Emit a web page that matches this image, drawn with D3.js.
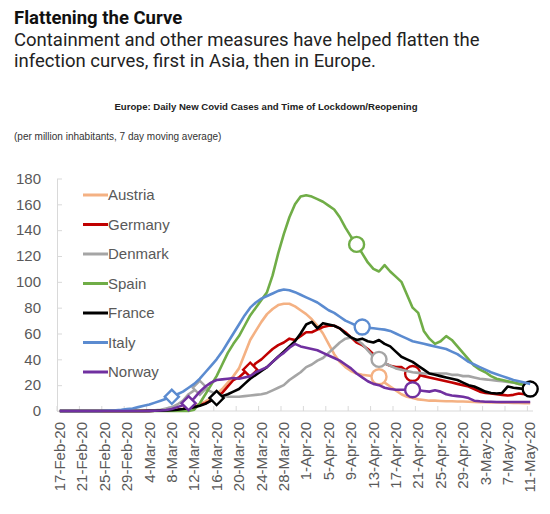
<!DOCTYPE html>
<html lang="en">
<head>
<meta charset="UTF-8">
<title>Flattening the Curve</title>
<script src="https://cdn.jsdelivr.net/npm/d3@7"></script>
<style>
  body { margin: 0; background: #fff; }
  text { font-family: 'Liberation Sans', Arial, sans-serif; }
</style>
</head>
<body>
<svg></svg>
<script>
    const width = 550, height = 514;

    // series, in legend (= drawing) order
    const countries = ['Austria', 'Germany', 'Denmark', 'Spain', 'France', 'Italy', 'Norway'];
    const colors = ['#f4b183', '#c00000', '#a5a5a5', '#70ad47', '#000000', '#5b8bd0', '#7030a0'];

    // daily new cases per million, 7 day moving average, 17-Feb-20 .. 11-May-20
    const austria = [0, 0, 0, 0, 0, 0, 0, 0, 0, 0, 0, 0, 0, 0, 0, 0.1, 0.2, 0.3, 0.4, 0.5,
        0.8, 1.2, 1.8, 2.8, 4, 5.5, 7.5, 10, 13, 17, 22, 27, 33, 44, 55, 62, 69, 75, 79, 82,
        83, 83, 81, 78, 75, 71, 66, 60, 52, 44, 38, 34, 31, 29, 28, 27.5, 27, 26.5, 22, 19,
        16, 13, 11, 10, 9, 8.5, 8, 8, 7.8, 7.6, 7.5, 7.4, 7.3, 7.2, 7, 6.9, 6.8, 6.7, 6.6, 6.5,
        6.4, 6.3, 6.2, 6.1, 6];
    const germany = [0, 0, 0, 0, 0, 0, 0, 0, 0, 0, 0, 0, 0, 0, 0, 0.1, 0.1, 0.2, 0.3, 0.4,
        0.6, 1, 1.5, 2.2, 3, 4.5, 6, 8, 11, 14, 19, 24, 26, 30, 32, 37, 40, 44, 48, 51,
        53, 56, 55, 58, 61, 61, 63, 65, 66, 66, 64, 61, 57, 53, 51, 48, 44, 40, 37, 35,
        34, 34, 31, 29, 28, 27, 26, 25, 24, 23, 22, 21, 20, 19, 17, 15, 14, 13.5, 13, 12.5,
        12, 12.5, 13.5, 13, 12];
    const denmark = [0, 0, 0, 0, 0, 0, 0, 0, 0, 0, 0, 0, 0, 0, 0, 0, 0.2, 0.5, 1, 2,
        3, 5, 8, 13, 16, 18, 17, 15, 13, 12, 11, 11, 11, 11.5, 12, 12.5, 13, 14, 16, 18,
        20, 24, 27, 30, 34, 36, 39, 41, 45, 49, 53, 56, 57, 55, 52, 47, 42, 40, 37, 35,
        33, 32, 31, 30, 29.5, 29, 29, 29, 29, 29, 28, 28, 27, 27, 26, 25, 24.5, 24, 23.5, 23,
        22.5, 22, 21, 20.5, 20];
    const spain = [0, 0, 0, 0, 0, 0, 0, 0, 0, 0, 0, 0, 0, 0, 0, 0, 0, 0, 0, 0,
        0, 0, 0, 0, 1, 6, 13, 20, 27, 36, 45, 52, 58, 66, 74, 80, 86, 92, 105, 122,
        137, 150, 160, 166, 167, 166, 164, 162, 159, 156, 150, 142, 135, 129, 122, 115, 110, 108, 113, 108,
        104, 100, 90, 80, 76, 62, 56, 52, 54, 58, 55, 50, 45, 40, 35, 32, 30, 27, 25, 24,
        23, 22, 21, 20, 20];
    const france = [0, 0, 0, 0, 0, 0, 0, 0, 0, 0, 0, 0, 0, 0, 0, 0, 0.1, 0.2, 0.3, 0.4,
        0.6, 1, 1.5, 2.2, 3, 4, 5.5, 8, 10, 11.5, 13, 15, 17, 21, 25, 28, 31, 34, 38, 42,
        46, 50, 54, 60, 67, 69, 64, 68, 67, 66, 64, 60, 57, 55, 56, 54, 53, 55, 52, 50,
        46, 42, 40, 38, 35, 32, 29, 28, 27, 26, 25, 24, 22, 20, 19, 17, 15, 14, 13.5, 14,
        19, 18, 17.5, 17, 17];
    const italy = [0, 0, 0, 0, 0, 0, 0, 0, 0.2, 0.4, 0.6, 1, 1.5, 2, 3, 4, 5, 6.5, 8, 9.5,
        11, 13, 15, 18, 21, 25, 30, 35, 40, 46, 53, 60, 67, 74, 80, 84, 87, 89, 91, 93,
        94, 93.5, 92, 90, 88, 86, 84, 81, 78, 76, 73, 70, 68, 66, 65, 64.5, 64, 63.5, 63, 62,
        60, 58, 56, 54, 53, 52, 51, 50, 49, 48, 46, 44, 41, 38, 36, 34, 32, 30, 28.5, 27,
        25.5, 24, 23, 22, 21];
    const norway = [0, 0, 0, 0, 0, 0, 0, 0, 0, 0, 0, 0, 0, 0, 0, 0, 0.1, 0.2, 0.4, 0.8,
        1.5, 3, 4.5, 6, 10, 15, 19, 22, 24, 24.5, 25, 25.5, 25, 26, 27, 30, 32, 34, 38, 42,
        45, 49, 52, 50, 49, 48, 47, 45, 43, 41, 39, 36, 33, 29, 26, 23, 21, 20, 18, 17,
        16.5, 16.5, 16.5, 16.5, 16, 15.5, 15, 16, 15, 13, 12, 11.5, 11, 10, 8, 7.5, 7.2, 7.2, 7, 7,
        7, 7, 7, 7, 7];
    const seriesValues = [austria, germany, denmark, spain, france, italy, norway];

    // lockdown (diamond) and reopening (circle) dates
    const lockdown = [['Italy', '8-Mar-20'], ['Norway', '11-Mar-20'], ['Denmark', '13-Mar-20'],
        ['France', '16-Mar-20'], ['Germany', '22-Mar-20']];
    const reopening = [['Austria', '14-Apr-20'], ['Germany', '20-Apr-20'], ['Denmark', '14-Apr-20'],
        ['Spain', '10-Apr-20'], ['France', '11-May-20'], ['Italy', '11-Apr-20'], ['Norway', '20-Apr-20']];

    const yTicks = [0, 20, 40, 60, 80, 100, 120, 140, 160, 180];
    const tickLabels = ['17-Feb-20', '21-Feb-20', '25-Feb-20', '29-Feb-20', '4-Mar-20', '8-Mar-20',
        '12-Mar-20', '16-Mar-20', '20-Mar-20', '24-Mar-20', '28-Mar-20', '1-Apr-20', '5-Apr-20',
        '9-Apr-20', '13-Apr-20', '17-Apr-20', '21-Apr-20', '25-Apr-20', '29-Apr-20', '3-May-20',
        '7-May-20', '11-May-20'];

    const fmt = d3.timeFormat('%-d-%b-%y');
    const categories = d3.timeDay.range(new Date(2020, 1, 17), new Date(2020, 4, 12)).map(fmt);

    const svg = d3.select('svg')
        .attr('width', width)
        .attr('height', height)
        .style('display', 'block');

    // headings
    svg.append('text')
        .attr('x', 14).attr('y', 24)
        .style('font-family', 'Roboto')
        .style('font-weight', 'bold')
        .style('font-size', '18.5px')
        .attr('fill', '#111')
        .text('Flattening the Curve');
    svg.append('text')
        .attr('x', 14).attr('y', 46)
        .style('font-family', 'Roboto')
        .style('font-size', '18.5px')
        .attr('fill', '#222')
        .text('Containment and other measures have helped flatten the');
    svg.append('text')
        .attr('x', 14).attr('y', 67)
        .style('font-family', 'Roboto')
        .style('font-size', '18.5px')
        .attr('fill', '#222')
        .text('infection curves, first in Asia, then in Europe.');
    svg.append('text')
        .attr('x', 266).attr('y', 110)
        .attr('text-anchor', 'middle')
        .style('font-weight', 'bold')
        .style('font-size', '9.6px')
        .attr('fill', '#222')
        .text('Europe: Daily New Covid Cases and Time of Lockdown/Reopening');
    svg.append('text')
        .attr('x', 14).attr('y', 140)
        .style('font-size', '10px')
        .attr('fill', '#333')
        .text('(per million inhabitants, 7 day moving average)');

    // scales
    const x = d3.scalePoint()
        .domain(categories)
        .range([57, 533])
        .padding(0.5);
    const y = d3.scaleLinear()
        .domain([0, 180])
        .range([411, 178.5]);
    const step = x.step();

    // y axis
    const yAxis = svg.append('g')
        .attr('transform', 'translate(57,0)')
        .call(d3.axisLeft(y).tickValues(yTicks).tickSize(-5).tickSizeOuter(0).tickPadding(16));
    yAxis.select('.domain').attr('stroke', '#d9d9d9');
    yAxis.selectAll('.tick line').attr('stroke', '#d9d9d9');
    yAxis.selectAll('.tick text')
        .attr('fill', '#595959')
        .style('font-size', '15px')
        .style('font-family', "'Liberation Sans', Arial, sans-serif");

    // x axis (category axis, ticks between categories every 4 days)
    const xAxis = svg.append('g');
    xAxis.append('line')
        .attr('x1', 57).attr('x2', 533)
        .attr('y1', y(0)).attr('y2', y(0))
        .attr('stroke', '#d9d9d9');
    xAxis.selectAll('.xtick')
        .data(categories.filter((d, i) => i % 4 === 0))
        .join('line')
        .attr('class', 'xtick')
        .attr('x1', d => x(d) - step / 2).attr('x2', d => x(d) - step / 2)
        .attr('y1', y(0)).attr('y2', y(0) - 5)
        .attr('stroke', '#d9d9d9');
    xAxis.selectAll('.xlabel')
        .data(tickLabels)
        .join('text')
        .attr('class', 'xlabel')
        .attr('transform', d => `translate(${x(d)},${y(0) + 11}) rotate(-90)`)
        .attr('dy', '0.35em')
        .attr('text-anchor', 'end')
        .attr('fill', '#595959')
        .style('font-size', '15px')
        .text(d => d);

    // lines and markers
    const line = d3.line()
        .x((d, i) => x(categories[i]))
        .y(d => y(d));
    const diamond = d3.symbol().type(d3.symbolSquare).size(100);

    countries.forEach((c, k) => {
        const values = seriesValues[k];
        svg.append('path')
            .datum(values)
            .attr('fill', 'none')
            .attr('stroke', colors[k])
            .attr('stroke-width', 2.6)
            .attr('stroke-linejoin', 'round')
            .attr('d', line);

        svg.selectAll(null)
            .data(lockdown.filter(d => d[0] === c))
            .join('path')
            .attr('d', diamond)
            .attr('transform', d => `translate(${x(d[1])},${y(values[categories.indexOf(d[1])])}) rotate(45)`)
            .attr('fill', '#fff')
            .attr('stroke', colors[k])
            .attr('stroke-width', 2.4);

        svg.selectAll(null)
            .data(reopening.filter(d => d[0] === c))
            .join('circle')
            .attr('cx', d => x(d[1]))
            .attr('cy', d => y(values[categories.indexOf(d[1])]))
            .attr('r', 7.5)
            .attr('fill', '#fff')
            .attr('stroke', colors[k])
            .attr('stroke-width', 2.4);
    });

    // legend
    const legend = svg.append('g')
        .selectAll('g')
        .data(countries)
        .join('g')
        .attr('transform', (d, i) => `translate(83,${195 + i * 29.5})`);
    legend.append('line')
        .attr('x2', 25)
        .attr('stroke', (d, i) => colors[i])
        .attr('stroke-width', 3);
    legend.append('text')
        .attr('x', 25)
        .attr('dy', '0.35em')
        .attr('fill', '#595959')
        .style('font-size', '15px')
        .text(d => d);
</script>
</body>
</html>
